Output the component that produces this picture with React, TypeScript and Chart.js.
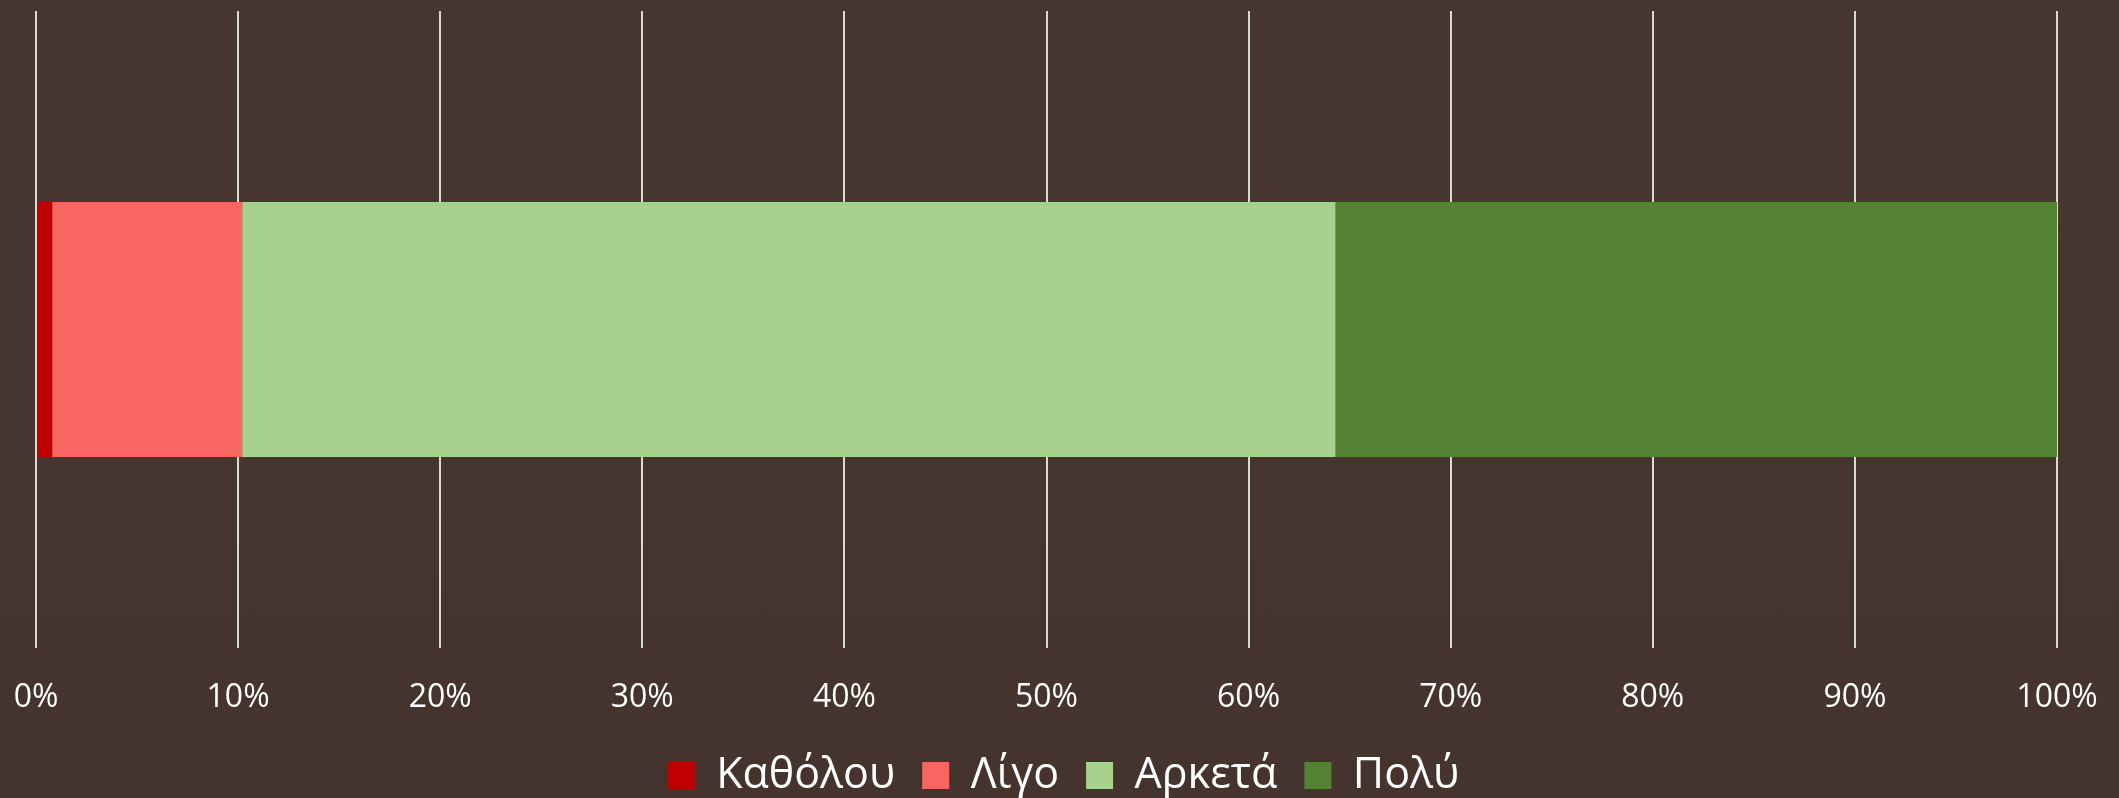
import React, { useEffect, useRef } from "react";
import { Chart, registerables } from "chart.js";

Chart.register(...registerables);

const categories = [""];
const seriesNames = ["Καθόλου", "Λίγο", "Αρκετά", "Πολύ"];
const kathólou = [0.8];
const lígo = [9.4];
const arketá = [54.1];
const polý = [35.7];
const seriesColors = ["#C00000", "#F96661", "#A9D18E", "#548235"];
const tickValues = [0, 10, 20, 30, 40, 50, 60, 70, 80, 90, 100];

const legendShift = {
  id: "legendShift",
  afterLayout(chart: any) {
    if (chart.legend) {
      chart.legend.left += 17;
      chart.legend.right += 17;
    }
  },
};

export default function App() {
  const ref = useRef<HTMLCanvasElement>(null);
  useEffect(() => {
    document.body.style.margin = "0";
    const ctx = ref.current!;
    const values = [kathólou, lígo, arketá, polý];
    const chart = new Chart(ctx, {
      type: "bar",
      data: {
        labels: categories,
        datasets: seriesNames.map((name, i) => ({
          label: name,
          data: values[i],
          backgroundColor: seriesColors[i],
          borderWidth: 0,
          categoryPercentage: 0.4,
          barPercentage: 1,
        })),
      },
      options: {
        indexAxis: "y",
        responsive: false,
        animation: false,
        layout: { padding: { left: 36, right: 62, top: 11, bottom: -9 } },
        scales: {
          x: {
            stacked: true,
            min: 0,
            max: 100,
            afterBuildTicks: (axis: any) => {
              axis.ticks = tickValues.map((v) => ({ value: v }));
            },
            afterFit: (axis: any) => {
              axis.height = 79;
              axis.paddingLeft = 0;
              axis.paddingRight = 0;
            },
            grid: { color: "#D9D9D9", lineWidth: 2, drawTicks: false },
            border: { display: false },
            ticks: {
              color: "#FFFFFF",
              font: { family: "'Open Sans'", size: 32 },
              padding: 31,
              callback: (v: any) => v + "%",
              maxRotation: 0,
              autoSkip: false,
            },
          },
          y: {
            stacked: true,
            display: false,
          },
        },
        plugins: {
          legend: {
            position: "bottom",
            labels: {
              color: "#FFFFFF",
              font: { family: "'Open Sans'", size: 43 },
              boxWidth: 27,
              boxHeight: 27,
              padding: 27,
            },
          },
          tooltip: { enabled: false },
        },
      },
      plugins: [legendShift],
    });
    return () => chart.destroy();
  }, []);
  return (
    <div style={{ width: 2119, height: 798, background: "linear-gradient(180deg, #473730 0%, #45342E 100%)" }}>
      <canvas ref={ref} width={2119} height={798} style={{ display: "block" }} />
    </div>
  );
}
